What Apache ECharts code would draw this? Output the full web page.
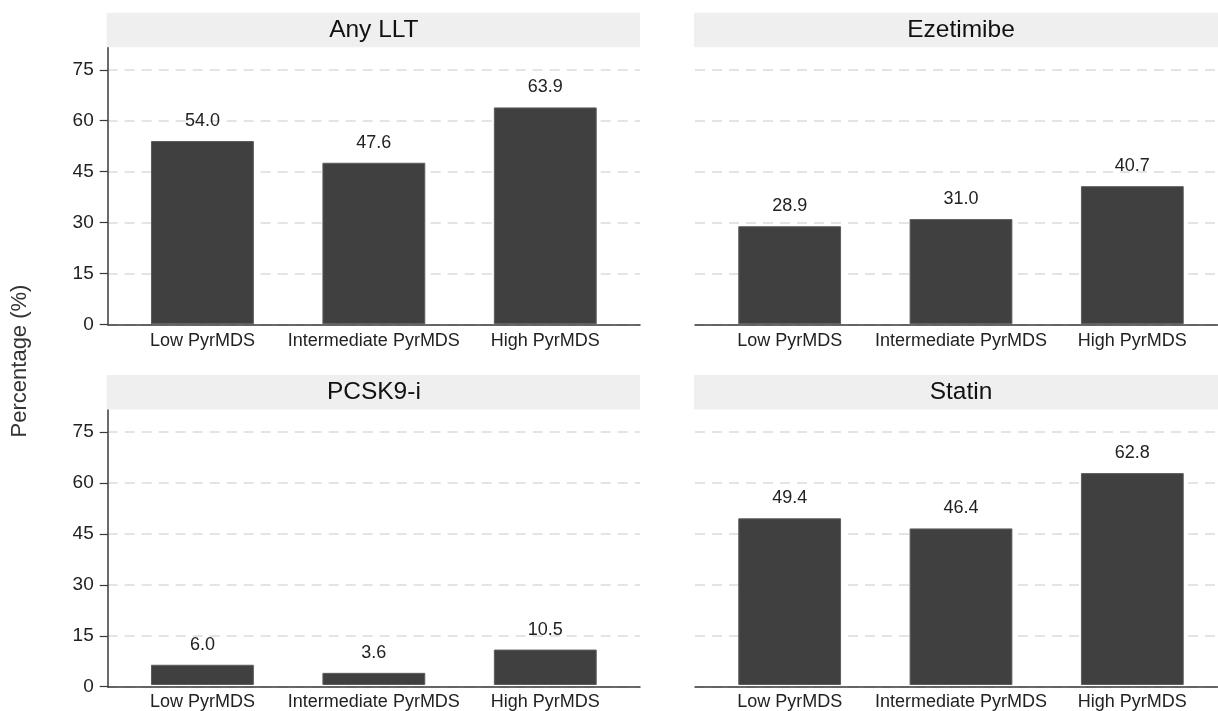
<!DOCTYPE html>
<html>
<head>
<meta charset="utf-8">
<script src="https://cdn.jsdelivr.net/npm/echarts@6/dist/echarts.min.js"></script>
<style>html,body{margin:0;padding:0;background:#fff}#c{width:1218px;height:711px}</style>
</head>
<body>
<div id="c"></div>
<script>
// ---- data ----
const categories = ['Low PyrMDS', 'Intermediate PyrMDS', 'High PyrMDS'];
const panelTitles = ['Any LLT', 'Ezetimibe', 'PCSK9-i', 'Statin'];
const anyLLT = [54.0, 47.6, 63.9];
const ezetimibe = [28.9, 31.0, 40.7];
const pcsk9i = [6.0, 3.6, 10.5];
const statin = [49.4, 46.4, 62.8];
const yTicks = [0, 15, 30, 45, 60, 75];
const yAxisTitle = 'Percentage (%)';

const panelData = [anyLLT, ezetimibe, pcsk9i, statin];
const FONT = '"Liberation Sans", Arial, sans-serif';
const W = 1218, H = 711;
const yMax = 81.5;

// panel layout (pixels)
const cols = [{x0: 107.7, x1: 640}, {x0: 695, x1: 1227}];
const rows = [{top: 47.7, bottom: 324.3}, {top: 410, bottom: 686.7}];
const headerRows = [{y: 12.7, h: 34.5}, {y: 375, h: 34.5}];
const inset = 9;

const grids = [], xAxes = [], yAxes = [], series = [], graphics = [];

panelData.forEach((vals, i) => {
  const c = cols[i % 2], r = rows[Math.floor(i / 2)], hr = headerRows[Math.floor(i / 2)];
  const isLeft = i % 2 === 0;
  // frame grid
  const fg = grids.length;
  grids.push({left: c.x0, right: W - c.x1, top: r.top, bottom: H - r.bottom, containLabel: false});
  xAxes.push({
    type: 'category', gridIndex: fg, data: categories,
    axisLine: {show: true, lineStyle: {color: '#3a3a3a', width: 1.5}},
    axisTick: {show: false}, axisLabel: {show: false}, splitLine: {show: false}
  });
  yAxes.push({
    type: 'value', gridIndex: fg, min: 0, max: yMax, interval: 15,
    axisLine: {show: isLeft, onZero: false, lineStyle: {color: '#3a3a3a', width: 1.5}},
    axisTick: {show: isLeft, length: 8, customValues: yTicks, lineStyle: {color: '#3a3a3a', width: 1.2}},
    axisLabel: {show: isLeft, customValues: yTicks, margin: 14, fontSize: 19, color: '#222', fontFamily: FONT},
    splitLine: {show: true, lineStyle: {color: '#e4e4e4', width: 2, type: [10, 7]}}
  });
  // bar grid
  const bg = grids.length;
  grids.push({left: c.x0 + inset, right: W - c.x1 + inset, top: r.top, bottom: H - r.bottom, containLabel: false});
  xAxes.push({
    type: 'category', gridIndex: bg, data: categories,
    axisLine: {show: false}, axisTick: {show: false},
    axisLabel: {show: true, margin: 8, fontSize: 18, color: '#222', fontFamily: FONT, interval: 0},
    splitLine: {show: false}
  });
  yAxes.push({type: 'value', gridIndex: bg, min: 0, max: yMax, show: false, splitLine: {show: false}});
  series.push({
    type: 'bar', xAxisIndex: xAxes.length - 1, yAxisIndex: yAxes.length - 1,
    data: vals, barCategoryGap: '40%',
    itemStyle: {color: '#404040', borderColor: '#5c5c5c', borderWidth: 1},
    label: {show: true, position: 'top', distance: 11, fontSize: 18, color: '#222', fontFamily: FONT,
      formatter: p => p.value.toFixed(1)},
    silent: true, animation: false
  });
  // header strip
  graphics.push({type: 'rect', shape: {x: c.x0 - 1, y: hr.y, width: c.x1 - c.x0 + 1, height: hr.h},
    style: {fill: '#efefef'}, silent: true});
  graphics.push({type: 'text', x: (c.x0 + c.x1) / 2, y: hr.y + hr.h / 2,
    style: {text: panelTitles[i], fontSize: 24.5, fill: '#111', fontFamily: FONT, textAlign: 'center', textVerticalAlign: 'middle'}});
});

graphics.push({type: 'text', x: 20, y: 361, rotation: Math.PI / 2,
  style: {text: yAxisTitle, fontSize: 22, fill: '#333', fontFamily: FONT, textAlign: 'center', textVerticalAlign: 'middle'}});

const chart = echarts.init(document.getElementById('c'), null, {renderer: 'canvas'});
chart.setOption({
  backgroundColor: '#fff',
  animation: false,
  grid: grids, xAxis: xAxes, yAxis: yAxes, series: series, graphic: graphics
});
</script>
</body>
</html>
